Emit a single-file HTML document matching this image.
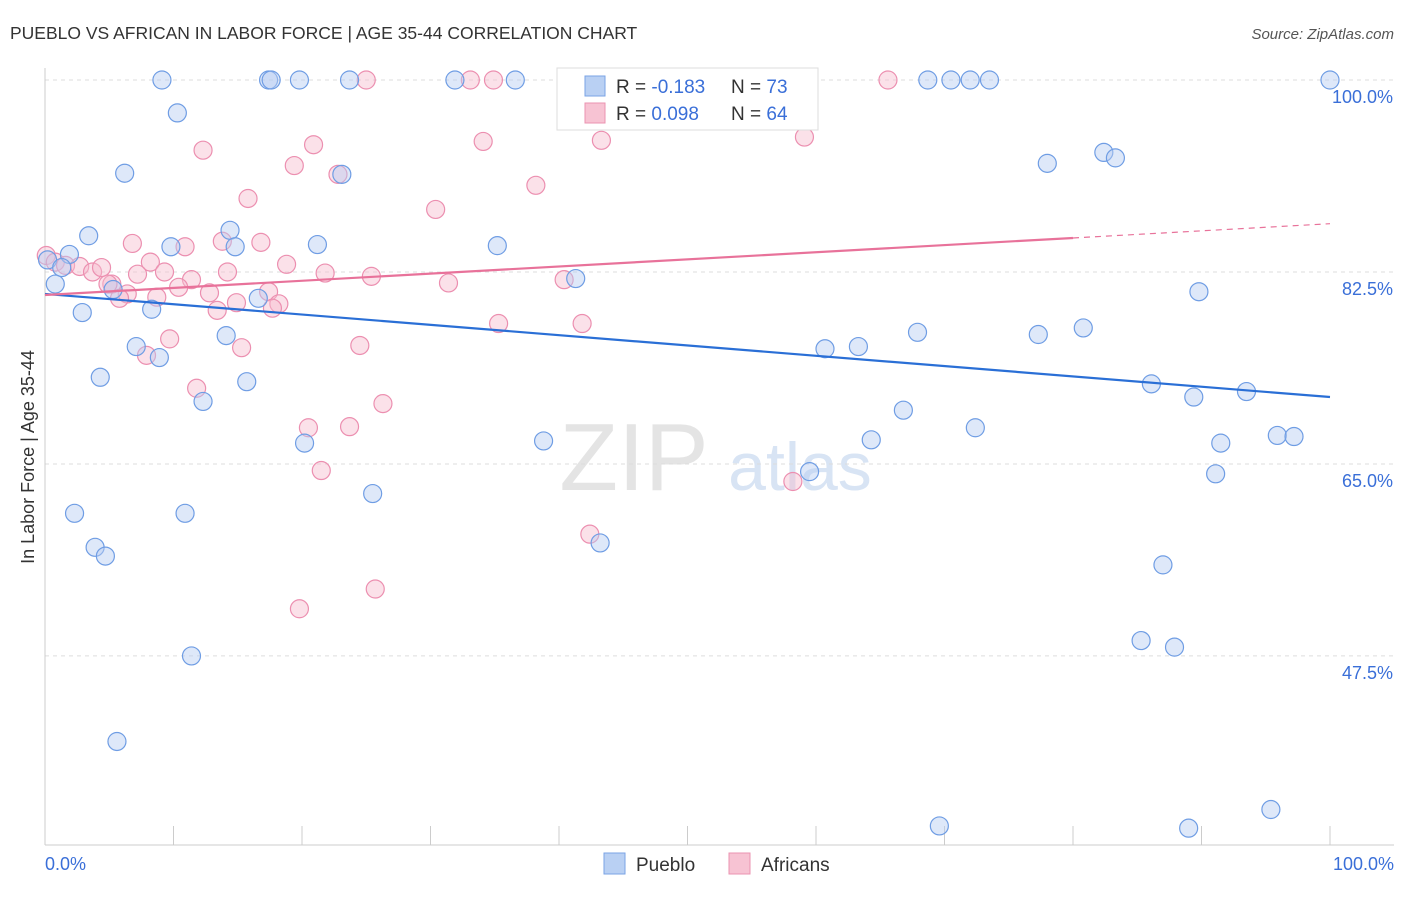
<!DOCTYPE html>
<html><head><meta charset="utf-8"><style>
body{margin:0;background:#fff;font-family:"Liberation Sans",sans-serif;}
svg text{font-family:"Liberation Sans",sans-serif;}
</style></head><body>
<svg id="chart" width="1406" height="892">
<text x="10" y="39" font-size="17.5" fill="#333">PUEBLO VS AFRICAN IN LABOR FORCE | AGE 35-44 CORRELATION CHART</text>
<text x="1394" y="39" font-size="15" fill="#555" font-style="italic" text-anchor="end">Source: ZipAtlas.com</text>
<text x="634" y="490" font-size="96" fill="#e4e4e4" font-family="Liberation Serif" text-anchor="middle">ZIP</text>
<text x="800" y="490" font-size="68" fill="#d8e4f4" text-anchor="middle">atlas</text>
<g id="grid"></g><g id="axes"></g><g id="pts"></g><g id="lines"></g>
<text transform="translate(34,457) rotate(-90)" font-size="18" fill="#333" text-anchor="middle">In Labor Force | Age 35-44</text>
<text x="45" y="870" font-size="18" fill="#3a6fd8">0.0%</text>
<text x="1394" y="870" font-size="18" fill="#3a6fd8" text-anchor="end">100.0%</text>
<g>
<rect x="557" y="68" width="261" height="62" fill="#fff" stroke="#ddd"/>
<rect x="585" y="76" width="20" height="20" fill="#b9d0f3" stroke="#7aa3e6"/>
<rect x="585" y="103" width="20" height="20" fill="#f7c3d3" stroke="#eb93b0"/>
<text x="616" y="93" font-size="19" fill="#333">R = <tspan fill="#3a6fd8">-0.183</tspan></text>
<text x="731" y="93" font-size="19" fill="#333">N = <tspan fill="#3a6fd8">73</tspan></text>
<text x="616" y="120" font-size="19" fill="#333">R = <tspan fill="#3a6fd8"> 0.098</tspan></text>
<text x="731" y="120" font-size="19" fill="#333">N = <tspan fill="#3a6fd8">64</tspan></text>
</g>
<g>
<rect x="604" y="853" width="21" height="21" fill="#b9d0f3" stroke="#7aa3e6"/>
<text x="636" y="871" font-size="19" fill="#333">Pueblo</text>
<rect x="729" y="853" width="21" height="21" fill="#f7c3d3" stroke="#eb93b0"/>
<text x="761" y="871" font-size="19" fill="#333">Africans</text>
</g>
</svg>
<script>
const yTicks=[100,82.5,65,47.5];
const yTickLabels=["100.0%","82.5%","65.0%","47.5%"];
const xTicks=[0,10,20,30,40,50,60,70,80,90,100];
const puebloX=[9.1,17.4,17.6,19.8,23.7,31.9,36.6,45.7,68.7,70.5,72.0,73.5,100,10.3,6.2,23.1,3.4,14.4,9.8,14.8,21.2,35.2,1.9,0.2,1.3,0.8,2.9,5.3,8.3,16.6,41.3,78.0,82.4,83.3,89.8,7.1,8.9,14.1,15.7,4.3,12.3,20.2,38.8,60.7,63.3,67.9,77.3,80.8,86.1,89.4,93.5,66.8,72.4,64.3,91.5,95.9,97.2,59.5,91.1,25.5,2.3,10.9,3.9,4.7,43.2,87.0,85.3,87.9,11.4,5.6,95.4,69.6,89.0];
const puebloY=[100,100,100,100,100,100,100,100,100,100,100,100,100,97.0,91.5,91.4,85.8,86.3,84.8,84.8,85.0,84.9,84.1,83.6,82.9,81.4,78.8,80.9,79.1,80.1,81.9,92.4,93.4,92.9,80.7,75.7,74.7,76.7,72.5,72.9,70.7,66.9,67.1,75.5,75.7,77.0,76.8,77.4,72.3,71.1,71.6,69.9,68.3,67.2,66.9,67.6,67.5,64.3,64.1,62.3,60.5,60.5,57.4,56.6,57.8,55.8,48.9,48.3,47.5,39.7,33.5,32.0,31.8];
const africanX=[25.0,33.1,34.9,65.6,12.3,20.9,19.4,34.1,43.3,59.1,22.8,38.2,15.8,30.4,6.8,10.9,13.8,16.8,8.2,0.1,0.8,1.6,2.7,3.7,7.2,9.3,11.4,14.2,18.8,21.8,25.4,31.4,40.4,5.2,6.4,8.7,10.4,12.8,14.9,13.4,17.4,18.2,17.7,5.8,35.3,41.8,9.7,7.9,15.3,24.5,11.8,26.3,20.5,23.7,21.5,58.2,42.4,25.7,19.8,4.9,4.4];
const africanY=[100,100,100,100,93.6,94.1,92.2,94.4,94.5,94.8,91.4,90.4,89.2,88.2,85.1,84.8,85.3,85.2,83.4,84.0,83.4,83.1,83.0,82.5,82.3,82.5,81.8,82.5,83.2,82.4,82.1,81.5,81.8,81.4,80.5,80.2,81.1,80.6,79.7,79.0,80.7,79.6,79.2,80.1,77.8,77.8,76.4,74.9,75.6,75.8,71.9,70.5,68.3,68.4,64.4,63.4,58.6,53.6,51.8,81.4,82.9];
const puebloTrend=[80.5,71.1]; // y at x=0 and x=100
const africanTrend=[80.4,86.9];
const africanSolidEnd=80;

const X0=45,X1=1330,Y100=80,PPY=10.97;
const sx=v=>X0+(X1-X0)*v/100;
const sy=v=>Y100+(100-v)*PPY;
const NS="http://www.w3.org/2000/svg";
function mk(tag,attrs,parent){const e=document.createElementNS(NS,tag);for(const k in attrs)e.setAttribute(k,attrs[k]);parent.appendChild(e);return e;}
const grid=document.getElementById('grid'),axes=document.getElementById('axes'),pts=document.getElementById('pts'),lines=document.getElementById('lines');
yTicks.forEach((t,i)=>{
  const l=mk('line',{x1:X0,x2:1394,y1:sy(t),y2:sy(t),stroke:'#ddd','stroke-dasharray':'4,4'},grid);
  
  
  const tx=mk('text',{x:1393,y:sy(t)+23,'font-size':18,fill:'#3a6fd8','text-anchor':'end'},grid);
  tx.textContent=yTickLabels[i];
  
  
});
const ya=mk('line',{x1:X0,x2:X0,y1:68,y2:845,stroke:'#ccc'},axes);


const xa=mk('line',{x1:X0,x2:1394,y1:845,y2:845,stroke:'#ccc'},axes);


xTicks.forEach(t=>{
  const l=mk('line',{x1:sx(t),x2:sx(t),y1:826,y2:845,stroke:'#ccc'},axes);
  
  
});
function dots(xs,ys,fill,stroke,name){
  xs.forEach((x,i)=>{
    const c=mk('circle',{cx:sx(x),cy:sy(ys[i]),r:9,fill:fill,'fill-opacity':0.45,stroke:stroke,'stroke-width':1.2},pts);
    
    
  });
}
dots(africanX,africanY,'#f7bccf','#ec8fb0','africans-point');
dots(puebloX,puebloY,'#b5cdf2','#6f9de4','pueblo-point');
const pl=mk('line',{x1:sx(0),y1:sy(puebloTrend[0]),x2:sx(100),y2:sy(puebloTrend[1]),stroke:'#2a6fd6','stroke-width':2.2},lines);


const ay=x=>africanTrend[0]+(africanTrend[1]-africanTrend[0])*x/100;
const al=mk('line',{x1:sx(0),y1:sy(ay(0)),x2:sx(africanSolidEnd),y2:sy(ay(africanSolidEnd)),stroke:'#e8729a','stroke-width':2.2},lines);


const ad=mk('line',{x1:sx(africanSolidEnd),y1:sy(ay(africanSolidEnd)),x2:sx(100),y2:sy(ay(100)),stroke:'#e8729a','stroke-width':1.2,'stroke-dasharray':'6,5'},lines);


</script>
</body></html>
